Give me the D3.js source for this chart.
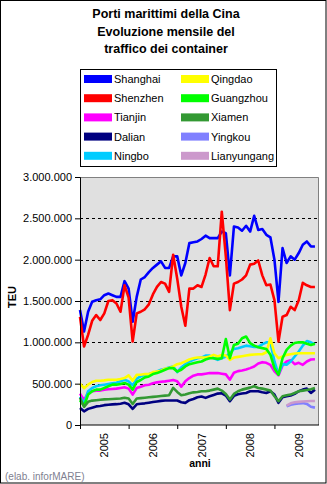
<!DOCTYPE html>
<html><head><meta charset="utf-8">
<script src="https://cdn.jsdelivr.net/npm/d3@7"></script>
<style>
html,body{margin:0;padding:0;background:#fff;}
svg{display:block;font-family:"Liberation Sans",Arial,sans-serif;}
</style></head><body><svg id="c" width="327" height="484"></svg>
<script>
// ---- DATA (thousand TEU per month, Jan 2005 - Nov 2009) ----
const years = ["2005","2006","2007","2008","2009"];
const monthCount = 59;
const titleLines = ["Porti marittimi della Cina","Evoluzione mensile del","traffico dei container"];
const seriesNames = ["Shanghai","Shenzhen","Tianjin","Dalian","Ningbo","Qingdao","Guangzhou","Xiamen","Yingkou","Lianyungang"];
const seriesColors = ["#0000FF","#FF0000","#FF00FF","#000080","#00CCFF","#FFFF00","#00FF00","#339933","#8080FF","#CC99CC"];
const yTicks = [0,500,1000,1500,2000,2500,3000];

const shanghai = [1390,1130,1370,1490,1510,1520,1570,1590,1570,1550,1550,1740,1650,1250,1550,1760,1790,1850,1900,1940,1980,1900,1900,2040,2040,1810,1960,2200,2210,2220,
  2250,2290,2260,2260,2260,2340,2320,1810,2400,2390,2350,2410,2340,2530,2360,2370,2300,2270,2000,1490,2140,1960,2040,2000,2080,2180,2220,2160,2160];
const shenzhen = [1310,950,1090,1260,1330,1270,1350,1500,1510,1470,1370,1690,1540,1010,1350,1370,1400,1460,1580,1670,1730,1710,1610,2060,1770,1430,1200,1650,1650,1690,
  1670,1820,2020,1920,1920,2580,2040,1390,1710,1730,1760,1810,1940,1950,1990,1810,1690,1700,1510,1010,1310,1330,1430,1390,1510,1720,1690,1670,1670];
const tianjin = [380,300,388,408,416,416,428,432,436,440,448,456,440,368,448,464,480,488,504,516,524,528,536,544,528,464,528,568,596,612,
  612,620,628,628,628,620,612,548,632,652,660,672,688,708,744,760,752,728,648,600,720,768,784,736,752,728,768,792,796];
const dalian = [205,165,195,210,225,230,240,245,250,252,258,268,250,195,250,258,262,270,278,285,292,296,296,296,296,276,268,300,315,335,
  344,328,348,364,380,384,356,288,352,372,380,388,408,408,408,396,388,408,368,268,336,348,356,376,408,428,440,388,428];
const ningbo = [340,260,408,448,468,480,488,496,504,512,528,548,528,480,560,588,608,616,628,648,668,680,696,708,640,696,736,768,788,808,
  816,840,840,808,788,808,828,868,920,928,944,960,952,944,944,976,1000,1000,768,616,736,728,768,828,888,960,1016,1000,976];
const qingdao = [500,445,488,520,536,536,540,548,548,548,556,568,600,536,608,608,616,616,640,648,656,680,688,708,736,748,768,792,808,816,
  816,816,828,848,828,848,840,788,816,824,832,840,848,852,856,856,880,1048,868,808,828,848,856,864,868,868,868,868,868];
const guangzhou = [300,230,368,408,428,428,448,468,488,488,496,508,488,428,520,544,576,588,616,628,648,668,688,688,648,668,708,736,748,760,
  768,792,808,808,800,808,1040,808,968,984,1050,1070,990,960,940,930,920,850,688,608,808,908,960,992,1000,1000,984,968,984];
const xiamen = [330,220,280,295,300,305,310,312,315,318,320,330,320,255,320,325,330,335,340,345,350,355,360,450,400,360,370,385,395,400,
  408,408,416,428,440,416,376,308,376,408,428,440,452,468,448,440,428,416,348,288,348,360,368,388,408,416,424,432,448];
const yingkou = [null,null,null,null,null,null,null,null,null,null,null,null,null,null,null,null,null,null,null,null,null,null,null,null,null,null,null,null,null,null,
  null,null,null,null,null,null,null,null,null,null,null,null,null,null,null,null,null,null,null,null,null,225,245,255,262,265,255,220,210];
const lianyungang = [null,null,null,null,null,null,null,null,null,null,null,null,null,null,null,null,null,null,null,null,null,null,null,null,null,null,null,null,null,null,
  null,null,null,null,null,null,null,null,null,null,null,null,null,null,null,null,null,null,null,null,null,235,262,275,280,285,288,290,290];

const seriesValues = [shanghai,shenzhen,tianjin,dalian,ningbo,qingdao,guangzhou,xiamen,yingkou,lianyungang];

// ---- CHART ----
const svg = d3.select("#c");
const W = 327, H = 484;
const L = 80, R = 319, T = 177, B = 425;

svg.append("rect").attr("x",0.5).attr("y",0.5).attr("width",W-1.5).attr("height",H-1.5)
  .attr("fill","#fff").attr("stroke","#000").attr("stroke-width",1);

// title
svg.append("g").selectAll("text").data(titleLines).join("text")
  .attr("x",166).attr("y",(d,i)=>18+i*17.6).attr("text-anchor","middle")
  .attr("font-size","12.5px").attr("font-weight","bold").attr("fill","#000").text(d=>d);

// legend
const lg = svg.append("g");
lg.append("rect").attr("x",80.5).attr("y",69.5).attr("width",196).attr("height",97)
  .attr("fill","#fff").attr("stroke","#000");
seriesNames.forEach((n,i)=>{
  const col = i<5?0:1, row = i%5;
  const sx = col===0?84:181, ry = 75+row*19.2;
  lg.append("rect").attr("x",sx).attr("y",ry).attr("width",28).attr("height",8).attr("fill",seriesColors[i]);
  lg.append("text").attr("x",sx+30).attr("y",ry+8).attr("font-size","11px").attr("fill","#000").text(n);
});

const x = d3.scaleLinear().domain([0,monthCount]).range([L,R]);
const y = d3.scaleLinear().domain([0,3000]).range([B,T]);

// plot area
svg.append("rect").attr("x",L).attr("y",T).attr("width",R-L).attr("height",B-T).attr("fill","#E0E0E0");
svg.append("path").attr("d",`M${L},${T+0.5}H${R-0.5}V${B}`).attr("fill","none").attr("stroke","#808080");

// gridlines
svg.append("g").selectAll("line").data(yTicks.filter(d=>d>0&&d<3000)).join("line")
  .attr("x1",L).attr("x2",R).attr("y1",d=>Math.round(y(d))+0.5).attr("y2",d=>Math.round(y(d))+0.5)
  .attr("stroke","#000").attr("stroke-dasharray","3,3");

// series lines
const line = d3.line().defined(d=>d.v!=null).x(d=>x(d.i)).y(d=>y(d.v));
const gl = svg.append("g");
seriesValues.forEach((vals,k)=>{
  gl.append("path").datum(vals.map((v,i)=>({i,v})))
    .attr("fill","none").attr("stroke",seriesColors[k]).attr("stroke-width",2.6)
    .attr("stroke-linejoin","round").attr("d",line);
});

// y axis
const fmt = d=>d3.format(",")(d*1000).replace(/,/g,".");
const ya = svg.append("g").attr("transform",`translate(${L},0)`)
  .call(d3.axisLeft(y).tickValues(yTicks).tickFormat(fmt).tickSize(5).tickPadding(3));
ya.selectAll("text").attr("font-size","11px").attr("font-family","Liberation Sans, Arial, sans-serif").attr("fill","#000");
ya.selectAll("line,path").attr("stroke","#000");

// x axis
const xa = svg.append("g").attr("transform",`translate(0,${B})`)
  .call(d3.axisBottom(x).tickValues(years.map((d,i)=>i*12)).tickFormat("").tickSize(4));
xa.select(".domain").attr("d",`M${L},0H${R}`);
xa.selectAll("line,path").attr("stroke","#000");

svg.append("g").selectAll("text").data(years).join("text")
  .attr("transform",(d,i)=>`translate(${x(i*12+6)+4},${B+8}) rotate(-90)`)
  .attr("text-anchor","end").attr("font-size","11px").attr("fill","#000").text(d=>d);

// axis titles
svg.append("text").attr("transform","translate(16,297) rotate(-90)").attr("text-anchor","middle")
  .attr("font-size","11px").attr("font-weight","bold").text("TEU");
svg.append("text").attr("x",200).attr("y",467).attr("text-anchor","middle")
  .attr("font-size","10.5px").attr("font-weight","bold").text("anni");
svg.append("text").attr("x",5).attr("y",480).attr("font-size","10px").attr("fill","#808090").text("(elab. inforMARE)");
</script></body></html>
